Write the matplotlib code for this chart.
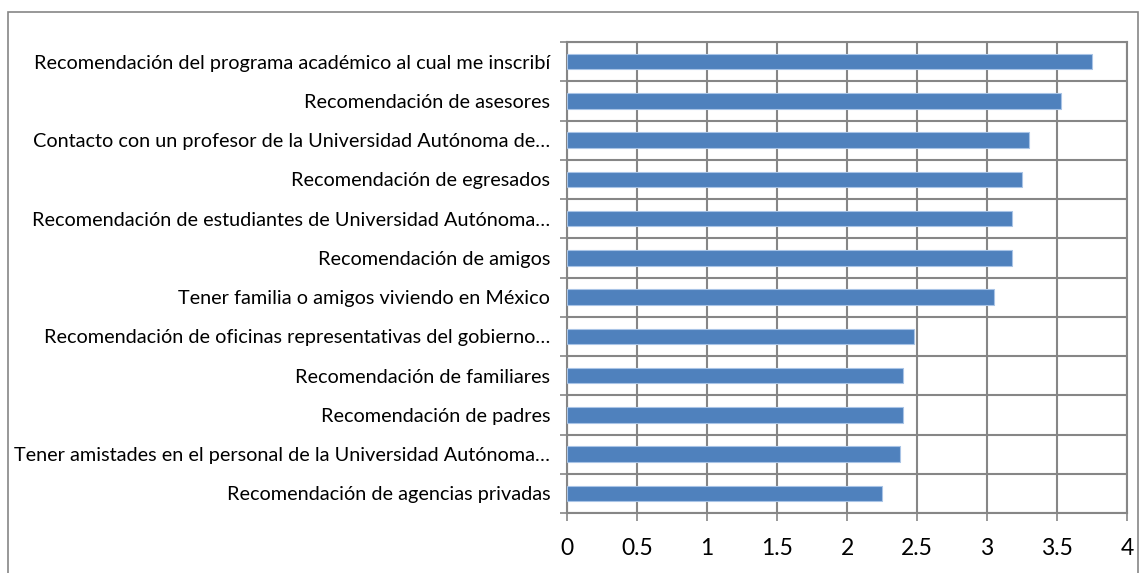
import matplotlib
matplotlib.use("Agg")
import matplotlib.pyplot as plt
from matplotlib.patches import Rectangle
import numpy as np

categories = [
    "Recomendación del programa académico al cual me inscribí",
    "Recomendación de asesores",
    "Contacto con un profesor de la Universidad Autónoma de…",
    "Recomendación de egresados",
    "Recomendación de estudiantes de Universidad Autónoma…",
    "Recomendación de amigos",
    "Tener familia o amigos viviendo en México",
    "Recomendación de oficinas representativas del gobierno…",
    "Recomendación de familiares",
    "Recomendación de padres",
    "Tener amistades en el personal de la Universidad Autónoma…",
    "Recomendación de agencias privadas",
]
values = [3.75, 3.53, 3.30, 3.25, 3.18, 3.18, 3.05, 2.48, 2.40, 2.40, 2.38, 2.25]
xticks = [0, 0.5, 1, 1.5, 2, 2.5, 3, 3.5, 4]
xticklabels = ["0", "0.5", "1", "1.5", "2", "2.5", "3", "3.5", "4"]

W, H = 1148, 573
fig = plt.figure(figsize=(W / 100, H / 100), dpi=100)
fig.patches.append(Rectangle((8 / W, -0.05), (1138 - 8) / W, 1.05 - 12 / H,
                             transform=fig.transFigure, fill=False,
                             edgecolor="#868686", linewidth=1.2))

ax = fig.add_axes([567 / W, (H - 513) / H, (1127 - 567) / W, (513 - 42) / H])
n = len(categories)
ypos = np.arange(n)[::-1]
ax.barh(ypos, values, height=0.39, color="#4F81BD", edgecolor="#A9C4E6",
        linewidth=0.8, zorder=3)

ax.set_xlim(0, 4)
ax.set_ylim(-0.5, n - 0.5)
ax.set_xticks(xticks)
ax.set_xticklabels(xticklabels, fontsize=16.5, family="Lato")
ax.set_yticks(ypos)
ax.set_yticklabels(categories, fontsize=14.3, family="Lato")
ax.set_yticks(np.arange(-0.5, n, 1.0), minor=True)
ax.tick_params(axis="y", which="major", length=0, pad=12)
ax.tick_params(axis="y", which="minor", length=5, width=1.2, color="#868686")
ax.tick_params(axis="x", which="major", length=6, width=1.2, color="#868686", pad=12)
ax.grid(axis="x", which="major", color="#868686", linewidth=1.5, zorder=0)
ax.grid(axis="y", which="minor", color="#868686", linewidth=1.5, zorder=0)
ax.set_axisbelow(True)
for s in ax.spines.values():
    s.set_color("#868686")
    s.set_linewidth(1.5)

fig.savefig("out.png", dpi=100)
